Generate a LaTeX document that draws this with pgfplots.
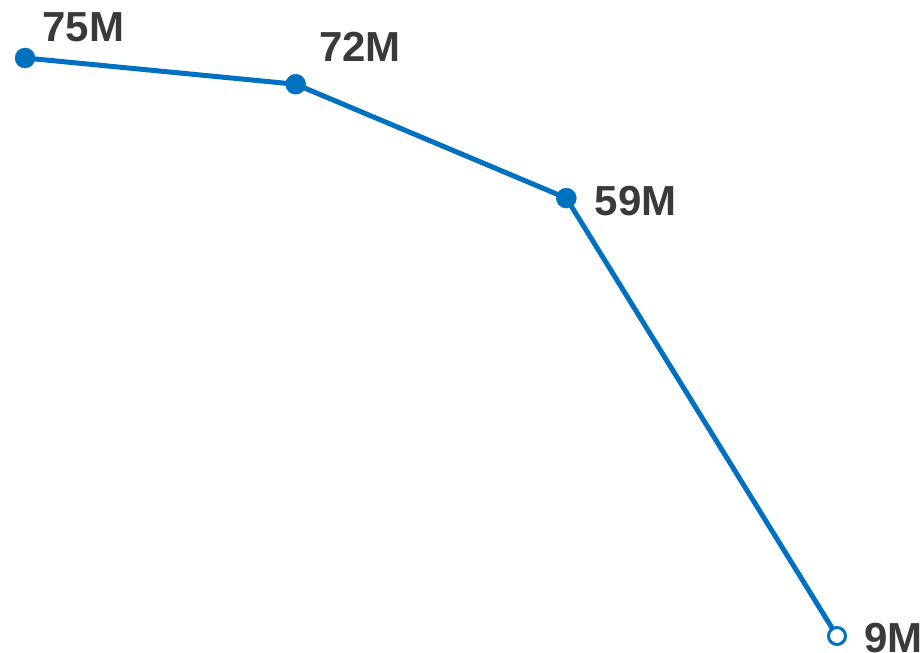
\documentclass[border=0pt]{standalone}
\usepackage{pgfplots}
\pgfplotsset{compat=1.18}
\usepackage{fontspec}
\setmainfont{Liberation Sans}
\definecolor{lineblue}{HTML}{0070C0}
\definecolor{labelgray}{HTML}{3A3A3A}
\begin{document}
\begin{tikzpicture}
\begin{axis}[
  width=920bp, height=653bp, scale only axis,
  hide axis, clip=false,
  xmin=-0.0924, xmax=3.3067,
  ymin=7.06, ymax=81.62,
]
\addplot[lineblue, line width=5bp, mark=none,
  visualization depends on={value \thisrow{dx} \as \dx},
  visualization depends on={value \thisrow{dy} \as \dy},
  nodes near coords={\fontsize{42bp}{50bp}\selectfont\bfseries\pgfmathprintnumber[fixed,precision=0,assume math mode=true]{\pgfplotspointmeta}M},
  point meta=explicit,
  nodes near coords style={anchor=base west, inner sep=0pt, text=labelgray, xshift=\dx bp, yshift=\dy bp},
] table[x=x, y=y, meta=y] {
x y dx dy
0 75 15 16
1 72 21 23
2 59 26 -17
3 9 25 -16
};
\addplot[only marks, mark=*, mark size=10bp,
  mark options={fill=lineblue, draw=lineblue}] table[x=x, y=y] {
x y
0 75
1 72
2 59
};
\addplot[only marks, mark=*, mark size=8.5bp,
  mark options={fill=white, draw=lineblue, line width=3bp}] coordinates {(3,9)};
\end{axis}
\pgfresetboundingbox
\path[use as bounding box] (current axis.south west) rectangle (current axis.north east);
\end{tikzpicture}
\end{document}
